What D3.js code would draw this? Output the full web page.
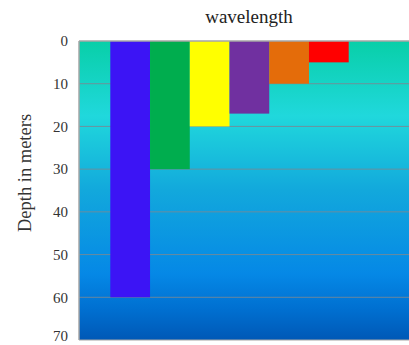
<!DOCTYPE html>
<html><head><meta charset="utf-8">
<script src="https://cdn.jsdelivr.net/npm/d3@7"></script>
<style>body{margin:0;background:#fff;overflow:hidden}svg{display:block}</style>
</head><body>
<script>
const categories = ["violet","green","yellow","purple","orange","red"];
const depths = [60, 30, 20, 17, 10, 5];
const barColors = ["#3c14f5","#00ad4e","#ffff00","#7030a0","#e46c0a","#ff0000"];
const yTicks = [0,10,20,30,40,50,60,70];

const W = 409, H = 345;
const plot = {left: 79, right: 412, top: 41, bottom: 340};
const serif = "'Liberation Serif', 'Times New Roman', serif";
const svg = d3.select("body").append("svg").attr("width", W).attr("height", H);

const y = d3.scaleLinear().domain([0,70]).range([plot.top, plot.bottom]);
const x = d3.scaleBand().domain(categories).range([110.3, 348.7]).paddingInner(0).paddingOuter(0);

const defs = svg.append("defs");
const g = defs.append("linearGradient").attr("id","water").attr("x1",0).attr("y1",0).attr("x2",0).attr("y2",1);
[[0,"#08cfa8"],[0.25,"#20d8dc"],[0.5,"#12a8dc"],[0.78,"#0588e6"],[0.9,"#006fd0"],[1,"#0058b6"]]
  .forEach(([o,c]) => g.append("stop").attr("offset",o).attr("stop-color",c));

svg.append("rect").attr("x",plot.left).attr("y",plot.top)
  .attr("width",plot.right-plot.left).attr("height",plot.bottom-plot.top)
  .attr("fill","url(#water)");

// gridlines
svg.append("g").selectAll("line").data(yTicks.filter(d=>d>0&&d<70)).join("line")
  .attr("x1",plot.left).attr("x2",plot.right)
  .attr("y1",d=>y(d)).attr("y2",d=>y(d))
  .attr("stroke","#7a8a94").attr("stroke-width",1).attr("opacity",0.85);

// bars
svg.append("g").selectAll("rect").data(categories).join("rect")
  .attr("x",d=>x(d)).attr("width",x.bandwidth())
  .attr("y",y(0)).attr("height",(d,i)=>y(depths[i])-y(0))
  .attr("fill",(d,i)=>barColors[i]);

// borders
svg.append("line").attr("x1",plot.left).attr("x2",plot.right).attr("y1",plot.top).attr("y2",plot.top)
  .attr("stroke","#a6a6a6").attr("stroke-width",1.5);
svg.append("line").attr("x1",plot.left).attr("x2",plot.left).attr("y1",plot.top).attr("y2",plot.bottom)
  .attr("stroke","#a6a6a6").attr("stroke-width",1.5);
svg.append("line").attr("x1",plot.left).attr("x2",plot.right).attr("y1",plot.bottom).attr("y2",plot.bottom)
  .attr("stroke","#a6a6a6").attr("stroke-width",1);

// y axis labels
const axis = d3.axisLeft(y).tickValues(yTicks).tickSize(0).tickPadding(11);
const ag = svg.append("g").attr("transform",`translate(${plot.left},0)`).call(axis);
ag.select(".domain").remove();
ag.selectAll("text").attr("font-family",serif).attr("font-size",15).attr("fill","#333")
  .attr("dy", d => d === 70 ? "0.05em" : "0.32em");

svg.append("text").attr("x",249).attr("y",23).attr("text-anchor","middle")
  .attr("font-family",serif).attr("font-size",19).attr("fill","#222")
  .text("wavelength");

svg.append("text").attr("transform","translate(31,173) rotate(-90)").attr("text-anchor","middle")
  .attr("font-family",serif).attr("font-size",18.5).attr("fill","#333")
  .text("Depth in meters");
</script>
</body></html>
